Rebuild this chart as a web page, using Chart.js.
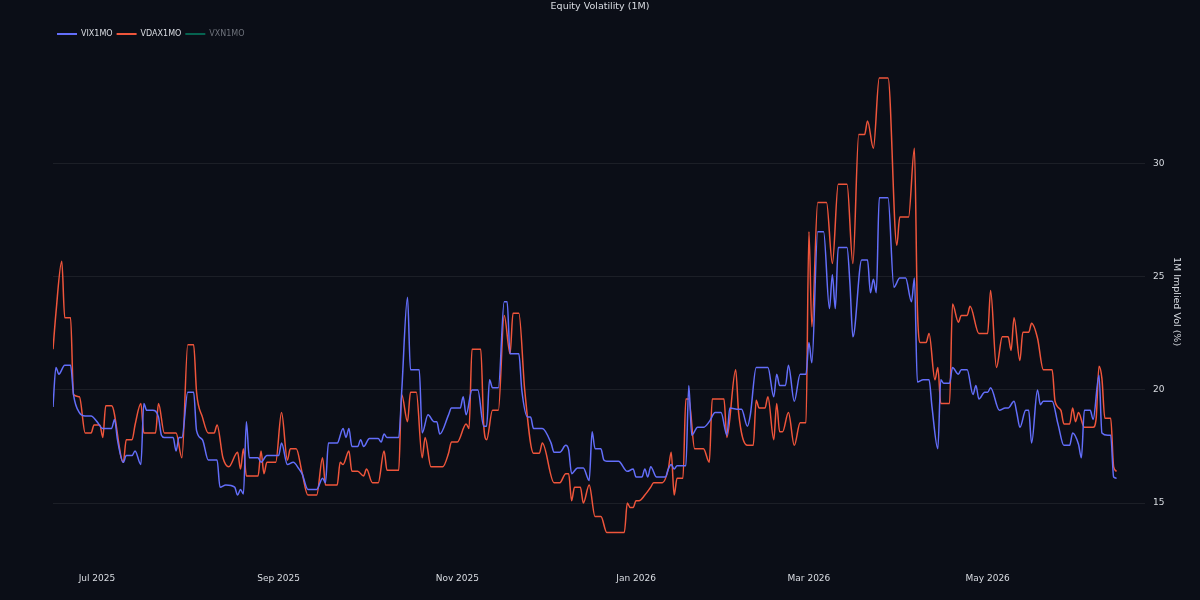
<!DOCTYPE html>
<html>
<head>
<meta charset="utf-8">
<script src="https://cdn.jsdelivr.net/npm/chart.js@4.4.1/dist/chart.umd.min.js"></script>
<style>
  html, body { margin: 0; padding: 0; background: #0b0e17; }
  #wrap { width: 1200px; height: 600px; }
</style>
</head>
<body>
<div id="wrap"><canvas id="myChart"></canvas></div>
<script>
// x values are days counted from 2025-07-01
const vixDays = [-15,-14,-13,-11,-9,-8,-6,-4,-2,0,2,5,6,7,9,10,12,13,15,16,17,19,21,22,23,26,27,28,29,31,33,34,36,38,41,42,44,47,48,49,50,51,52,55,56,58,62,63,65,67,69,70,72,75,77,78,79,82,84,85,86,87,89,90,91,93,96,97,98,99,103,104,106,107,110,111,113,115,116,117,120,121,124,125,126,128,130,132,133,134,135,137,139,140,141,144,145,147,148,149,152,155,156,158,160,161,162,164,166,168,169,170,172,173,174,178,181,183,184,186,187,188,189,191,194,195,196,197,198,201,202,203,205,207,209,211,213,215,216,219,220,222,223,225,229,231,232,233,235,236,238,240,242,243,244,246,248,250,251,252,253,256,257,258,261,263,264,265,266,267,270,272,274,276,278,279,280,282,284,285,287,288,289,291,292,294,295,297,299,300,301,303,304,305,308,310,311,313,314,315,317,318,319,321,322,323,326,328,330,332,333,335,336,337,339,340,342,343,345,346,347,348];
const vixVals = [19.25,21.0,20.7,21.1,21.1,19.8,19.0,18.85,18.85,18.6,18.3,18.3,18.7,17.8,16.8,17.1,17.1,17.3,16.7,19.4,19.1,19.1,18.8,18.0,17.9,17.9,17.3,17.9,17.9,19.9,19.9,18.2,17.8,16.9,16.9,15.7,15.8,15.7,15.35,15.6,15.4,18.6,17.0,17.0,16.8,17.1,17.1,17.65,16.7,16.8,16.5,16.3,15.6,15.6,16.1,15.9,17.65,17.65,18.3,17.9,18.3,17.5,17.5,17.8,17.5,17.85,17.85,17.7,18.05,17.9,17.9,19.9,24.1,20.9,20.9,18.1,18.9,18.6,18.6,18.05,18.9,19.2,19.2,19.7,18.9,20.0,20.0,18.4,18.4,20.45,20.1,20.1,23.9,23.9,21.6,21.6,20.0,18.8,18.8,18.3,18.3,17.65,17.25,17.25,17.55,17.35,16.3,16.55,16.55,16.0,18.15,17.4,17.4,16.9,16.85,16.85,16.4,16.5,16.15,16.15,16.5,16.15,16.6,16.15,16.15,16.5,16.7,16.5,16.65,16.65,20.2,18.0,18.35,18.35,18.6,19.0,19.0,18.0,19.2,19.15,19.15,18.4,18.9,21.0,21.0,19.7,20.7,20.2,20.2,21.1,19.5,20.7,20.7,22.1,21.2,27.0,27.0,23.6,25.1,23.6,26.3,26.3,24.7,22.35,25.75,25.75,24.3,24.9,24.3,28.5,28.5,24.55,24.95,24.95,23.9,24.95,20.35,20.45,20.45,19.25,17.4,20.45,20.3,20.3,21.0,20.7,20.9,20.9,19.8,20.2,19.6,19.9,19.9,20.1,19.1,19.2,19.2,19.5,18.95,18.35,19.1,19.1,17.65,20.0,19.35,19.5,19.5,18.5,17.55,17.55,18.1,17.6,17.0,19.1,19.1,18.7,20.65,18.1,18.0,18.0,16.15,16.1];

const vdaxDays = [-15,-14,-12,-11,-9,-8,-6,-4,-2,-1,1,2,3,5,9,10,12,13,15,16,20,21,23,27,29,31,33,34,36,38,40,41,43,45,48,49,50,51,55,56,57,58,61,63,65,66,68,70,72,75,77,78,82,83,84,86,87,89,91,92,94,96,98,99,103,104,106,107,109,111,112,114,118,120,121,123,126,127,128,131,132,133,135,137,139,141,142,144,146,149,151,152,156,158,160,161,162,163,165,166,168,170,172,174,180,181,182,183,184,185,187,189,190,193,195,196,197,198,200,201,202,204,207,209,210,214,215,218,219,222,224,225,226,228,229,231,232,233,234,236,238,240,242,243,244,246,249,251,253,256,258,260,262,263,265,267,270,273,274,277,279,280,281,283,284,286,287,288,291,292,294,295,297,298,301,304,305,307,309,311,312,313,315,316,318,319,321,323,326,327,329,330,332,333,334,335,337,340,341,342,343,344,346,347,348];
const vdaxVals = [21.8,23.4,25.7,23.2,23.2,19.8,19.7,18.1,18.1,18.45,18.45,17.9,19.3,19.3,16.8,17.8,17.8,18.45,19.4,18.1,18.1,19.4,18.1,18.1,17.0,22.0,22.0,19.9,18.8,18.1,18.1,18.45,17.0,16.6,17.25,16.5,17.4,16.2,16.2,17.3,16.3,16.8,16.8,19.0,16.9,17.4,17.4,16.35,15.35,15.35,17.0,15.8,15.8,16.8,16.7,17.3,16.4,16.4,16.2,16.5,15.9,15.9,17.3,16.45,16.45,19.8,18.6,19.9,19.9,17.0,17.9,16.6,16.6,17.2,17.7,17.7,18.5,18.3,21.8,21.8,18.45,17.8,19.1,19.1,23.3,21.6,23.4,23.4,20.0,17.2,17.2,17.65,15.9,15.9,16.3,16.3,15.1,15.7,15.7,15.0,15.8,14.4,14.4,13.7,13.7,15.0,14.8,14.8,15.1,15.1,15.35,15.7,15.9,15.9,16.5,17.25,15.35,16.1,16.1,19.6,19.6,17.4,17.4,16.8,19.6,19.6,17.9,20.9,19.0,17.55,17.55,19.55,19.2,19.2,19.7,17.8,19.4,18.15,18.15,19.0,17.55,18.55,18.55,27.0,22.8,28.3,28.3,25.6,29.1,29.1,25.6,31.3,31.3,31.9,30.7,33.8,33.8,26.4,27.65,27.65,30.7,23.7,22.1,22.1,22.5,20.45,21.0,19.4,19.4,23.8,23.0,23.3,23.3,23.7,22.5,22.5,24.4,21.0,22.35,22.35,21.75,23.2,21.3,22.55,22.55,22.95,22.3,20.9,20.9,19.5,19.1,18.5,18.5,19.2,18.6,19.0,18.35,18.35,18.7,21.05,20.5,18.75,18.75,16.6,16.4];

// VXN1MO is legend-only in the reference, nothing drawn
const vxnDays = [];
const vxnVals = [];

const monthTicks = [0, 62, 123, 184, 243, 304];
const monthLabels = ['Jul 2025', 'Sep 2025', 'Nov 2025', 'Jan 2026', 'Mar 2026', 'May 2026'];
const yTicks = [15, 20, 25, 30];
const chartTitle = 'Equity Volatility (1M)';

function toPoints(days, vals) {
  return days.map((d, i) => ({x: d, y: vals[i]}));
}

const textColor = '#d9dce2';
const baseFont = {family: 'DejaVu Sans', size: 9};

// title centred on the whole canvas, like the original figure
const centeredTitle = {
  id: 'centeredTitle',
  afterDraw(chart) {
    const ctx = chart.ctx;
    ctx.save();
    ctx.fillStyle = textColor;
    ctx.font = '9.5px "DejaVu Sans"';
    ctx.textAlign = 'center';
    ctx.textBaseline = 'middle';
    ctx.fillText(chartTitle, chart.width / 2, 7);
    ctx.restore();
  }
};

const data = {
  datasets: [
    {
      label: 'VIX1MO',
      data: toPoints(vixDays, vixVals),
      borderColor: '#636efa',
      backgroundColor: '#636efa',
    },
    {
      label: 'VDAX1MO',
      data: toPoints(vdaxDays, vdaxVals),
      borderColor: '#ef553b',
      backgroundColor: '#ef553b',
    },
    {
      label: 'VXN1MO',
      data: toPoints(vxnDays, vxnVals),
      borderColor: '#00cc96',
      backgroundColor: '#00cc96',
      hidden: true,
    },
  ]
};

const config = {
  type: 'line',
  data: data,
  plugins: [centeredTitle],
  options: {
    responsive: true,
    maintainAspectRatio: false,
    animation: false,
    elements: {
      point: {radius: 0, hitRadius: 4},
      line: {borderWidth: 1.5, tension: 0.4, cubicInterpolationMode: 'monotone'}
    },
    layout: {padding: {left: 53, right: 14, top: 26, bottom: 0}},
    plugins: {
      title: {display: false},
      legend: {
        position: 'top',
        align: 'start',
        labels: {
          boxWidth: 20,
          boxHeight: 2,
          padding: 4,
          font: {family: 'DejaVu Sans', size: 8},
          generateLabels: (chart) => chart.data.datasets.map((ds, i) => ({
            text: ds.label,
            fillStyle: ds.hidden ? 'rgba(0,204,150,0.45)' : ds.borderColor,
            strokeStyle: ds.hidden ? 'rgba(0,204,150,0.45)' : ds.borderColor,
            lineWidth: 0,
            hidden: false,
            fontColor: ds.hidden ? '#6e727b' : textColor,
            datasetIndex: i
          }))
        }
      },
      tooltip: {enabled: false}
    },
    scales: {
      x: {
        type: 'linear',
        min: -15,
        max: 357.7,
        grid: {display: false},
        border: {display: false},
        afterBuildTicks: (axis) => { axis.ticks = monthTicks.map(v => ({value: v})); },
        afterFit: (axis) => { axis.height = 45; },
        ticks: {
          color: textColor,
          font: baseFont,
          padding: 10,
          maxRotation: 0,
          autoSkip: false,
          callback: (v) => monthLabels[monthTicks.indexOf(v)]
        }
      },
      y: {
        position: 'right',
        min: 12.7,
        max: 35.13,
        afterBuildTicks: (axis) => { axis.ticks = yTicks.map(v => ({value: v})); },
        afterFit: (axis) => { axis.width = 41; },
        grid: {color: 'rgba(255,255,255,0.07)', drawTicks: false, lineWidth: 1},
        border: {display: false},
        ticks: {color: textColor, font: baseFont, padding: 8},
        title: {
          display: true,
          text: '1M Implied Vol (%)',
          color: textColor,
          font: {family: 'DejaVu Sans', size: 9.5},
          padding: {top: 4, bottom: 4}
        }
      }
    }
  }
};

const myChart = new Chart(document.getElementById('myChart').getContext('2d'), config);
</script>
</body>
</html>
